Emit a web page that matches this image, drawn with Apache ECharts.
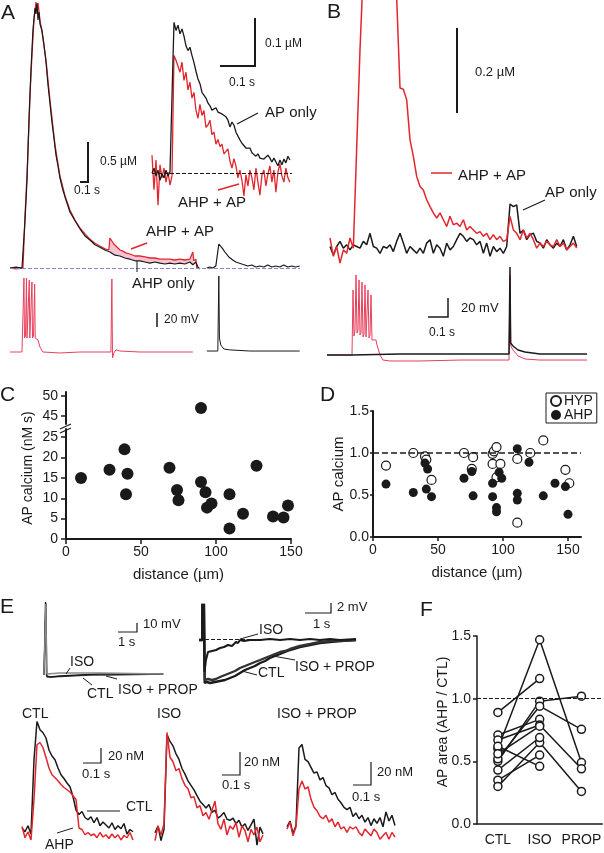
<!DOCTYPE html>
<html>
<head>
<meta charset="utf-8">
<script src="https://cdn.jsdelivr.net/npm/echarts@6.0.0/dist/echarts.min.js"></script>
<style>
html, body { margin: 0; padding: 0; background: #fff; }
#chart { width: 604px; height: 853px; }
</style>
</head>
<body>
<div id="chart"></div>
<script>
"use strict";

var RED = '#e3262d';
var VRED = '#e8405c';
var INK = '#1a1a1a';
var FONT = '"Liberation Sans", Arial, sans-serif';

/*---- A : calcium, [ms, nM] ----*/
var aAhpOnlyCa = [[0,0],[67,12],[133,0],[144,0],[167,600],[189,1100],[211,1850],[233,2475],[255,2975],[278,3250],[289,3175],[300,3310],[311,3100],[322,3200],[333,3050],[355,2975],[377,2790],[400,2575],[422,2290],[444,2060],[466,1825],[488,1625],[511,1410],[533,1275],[555,1125],[588,975],[622,850],[666,700],[722,590],[777,490],[833,400],[888,350],[944,290],[999,260],[1055,225],[1110,200],[1166,160],[1221,150],[1277,125],[1332,110],[1388,90],[1443,90],[1499,75],[1554,60],[1610,75],[1665,60],[1721,50],[1776,60],[1832,50],[1887,60],[1943,50],[1998,75],[2031,40],[2065,75],[2087,12],[2109,-12]];
var aAhpApCa = [[0,0],[67,-10],[144,0],[167,660],[189,1160],[200,1475],[222,2160],[244,2660],[266,3100],[289,3325],[300,3250],[311,3310],[333,3100],[366,2875],[400,2600],[444,2100],[500,1540],[555,1150],[611,900],[666,725],[722,600],[777,500],[833,425],[888,360],[944,310],[999,275],[1055,240],[1099,225],[1110,375],[1132,350],[1154,300],[1177,275],[1199,250],[1221,225],[1254,210],[1288,190],[1332,175],[1388,150],[1443,150],[1499,140],[1554,125],[1610,125],[1665,110],[1721,110],[1776,110],[1832,100],[1887,110],[1943,100],[1998,110],[2031,200],[2042,90],[2065,110],[2076,0]];
var aApOnlyCa = [[2187,0],[2220,12],[2253,0],[2287,25],[2309,0],[2320,300],[2342,275],[2364,238],[2387,200],[2409,175],[2431,138],[2453,125],[2475,100],[2509,75],[2542,62],[2575,50],[2609,38],[2642,25],[2686,38],[2731,12],[2775,25],[2819,12],[2864,38],[2908,12],[2953,25],[2997,12],[3041,38],[3086,12],[3130,25],[3175,12],[3219,25]];
// inset, nM every 5.7 ms
var aInsetApOnly = [0,10,-6,6,-15,-2,-10,6,-6,2,6,314,297,308,290,300,285,265,255,262,245,230,212,196,186,168,166,156,146,140,131,133,136,127,131,123,119,117,110,96,106,100,85,85,69,62,60,52,48,52,42,46,35,40,31,35,29,27,37,31,23,31,27,15,27,17,29,21,35,27];
var aInsetAhpAp = [37,-35,27,-67,17,-10,10,-19,2,-25,-6,245,235,239,210,231,193,210,173,189,156,168,131,114,143,120,130,95,100,110,80,85,60,70,55,60,40,45,50,25,10,30,15,-10,6,-15,-48,-4,-27,6,-10,-35,10,-19,-46,-4,6,-27,-2,15,-19,6,-40,2,19,-6,-19,10,-10,-19];
// membrane potential, [ms, mV]
var aVmAhpAp = [[0,-65],[133,-65],[144,-63.6],[155,40.7],[161,-45],[172,-42],[183,40.7],[189,-45],[200,-43.6],[214,37.9],[220,-45],[233,-43.6],[244,35],[250,-45],[261,-42],[274,32],[280,-45],[294,-43.6],[311,-47.9],[333,-57.9],[366,-65],[555,-66.4],[777,-65],[999,-65],[1121,-65],[1132,39.3],[1139,-73.6],[1154,-66.4],[1177,-62],[1221,-63.6],[1443,-65],[1665,-65],[2031,-65]];
var aVmApOnly = [[2187,-63.6],[2309,-63.6],[2320,43.6],[2327,-45],[2342,-55],[2376,-60.7],[2442,-62],[2664,-63.6],[3219,-63.6]];

/*---- B ----*/
// calcium, nM every 16.7 ms
var bApOnlyCa = [-4,-24,-4,8,-8,0,-12,0,-4,-8,8,0,27,-4,-8,-20,-4,-8,0,-16,8,27,4,-20,-4,-12,-20,-8,-20,4,12,-20,0,-8,-27,4,-12,-4,12,27,20,8,16,12,0,8,-20,4,-27,-4,-16,-8,-20,-4,96,90,94,27,35,12,24,27,8,4,-8,12,0,-8,4,-4,12,-12,0,20,-4];
var bAhpApCa = [16,-27,-4,-43,-12,-20,16,-8,227,459,650,850,950,980,960,900,830,760,700,640,580,369,366,341,247,208,161,137,129,106,90,75,63,75,59,43,67,47,51,43,59,35,43,35,27,31,20,27,12,24,12,20,8,12,67,35,27,12,35,16,27,12,-8,4,-4,8,0,-4,12,-4,4,-12,-4,4,-8];
var bVmApOnly = [[-15,-65],[110,-65],[120,-64],[350,-64],[600,-64],[895,-64],[900,27.6],[903,-52.4],[915,-55.5],[940,-59.7],[975,-61.8],[1050,-64],[1285,-64]];
var bVmAhpAp = [[-15,-65],[110,-65],[115,3.4],[120,-45],[125,-38.7],[130,19.2],[135,-41.8],[140,-38.7],[145,14],[150,-44],[155,-41.8],[160,11.8],[165,-46],[170,-42.9],[175,8.7],[180,-46],[185,-44],[190,3.4],[195,-47.1],[200,-44],[205,-1.8],[210,-49.2],[220,-47.1],[230,-49.2],[235,-54.5],[250,-65],[265,-70.3],[300,-71.3],[450,-71.3],[650,-70.3],[895,-70.3],[900,19.2],[904,-55.5],[915,-59.7],[940,-66],[975,-69.2],[1050,-70.3],[1285,-70.3]];

/*---- C ----*/
var cDistance = [10,29,39,41,40,69,74,75,90,93,94,97,109,109,118,127,138,145,148,90];
var cCalcium = [15,17,22,16,11,17.5,12,9.5,14,11.5,7.7,8.7,11,2.6,6.2,18,5.5,5.3,8.2,47];
var cTicksLow = [0,5,10,15,20,25];
var cTicksHigh = [45,50];

/*---- D ----*/
var dHypDistance = [10,31,40,41,45,70,77,76,92,93,95,92,98,95,111,111,121,131,148,151];
var dHypRatio = [0.85,1.0,0.96,0.92,0.68,1.0,0.95,0.81,0.99,1.02,1.07,0.87,0.87,0.71,0.93,0.17,1.0,1.15,0.8,0.64];
var dAhpDistance = [10,31,40,42,41,45,70,76,77,92,92,95,95,97,99,111,111,111,120,131,140,148,150];
var dAhpRatio = [0.63,0.53,0.88,0.81,0.57,0.48,0.7,0.78,0.49,0.64,0.48,0.35,0.3,0.77,0.7,1.05,0.52,0.44,0.89,0.49,0.64,0.6,0.27];
var dTicks = [0,50,100,150];

/*---- E ----*/
// whole-cell potential, [s, mV]
var eVmCtl = [[0,-65],[0.053,-65],[0.079,16.1],[0.132,-66.1],[0.158,-68.3],[0.316,-67.2],[0.842,-66.1],[1.89,-65],[2.95,-63.9],[4,-63.9],[6.26,-63.9]];
var eVmIso = [[0,-65],[0.068,-65],[0.095,13.9],[0.147,-63.9],[0.21,-62.8],[0.842,-62.8],[1.89,-62.8],[2.95,-62.8],[6.26,-63.9]];
var eVmIsoProp = [[0,-65],[0.074,-65],[0.1,15],[0.153,-67.2],[0.316,-67.2],[1.37,-66.1],[2.42,-65],[3.47,-65],[6.26,-63.9]];
var eAhpIso = [[0,-65.2],[0.115,-65.2],[0.135,-37.2],[0.192,-37.2],[0.212,-71.6],[0.269,-69.2],[0.346,-67.6],[0.5,-67.4],[0.654,-67.2],[0.808,-66.8],[0.962,-66.6],[1.115,-66.2],[1.27,-66.4],[1.42,-65.6],[1.5,-65.8],[1.577,-65.2],[1.73,-65.4],[1.96,-65.2],[2.35,-65.2],[2.73,-65],[3.12,-65.2],[3.5,-65],[3.88,-65.2],[4.27,-65],[4.65,-65.2],[5.04,-65],[5.42,-65.2],[6.04,-65]];
var eAhpCtl = [[0,-65.2],[0.127,-65.2],[0.146,-37.2],[0.2,-37.2],[0.219,-73.8],[0.308,-73.6],[0.423,-73.8],[0.615,-73.6],[0.808,-73.4],[1,-73.2],[1.192,-72.8],[1.385,-72.4],[1.577,-71.8],[1.77,-71.2],[1.96,-70.8],[2.15,-70.4],[2.35,-69.8],[2.54,-69.4],[2.73,-68.8],[2.92,-68.4],[3.12,-68],[3.31,-67.6],[3.5,-67.2],[3.88,-66.6],[4.27,-66.2],[4.65,-65.8],[5.04,-65.6],[5.42,-65.4],[6.04,-65.2]];
var eAhpIsoProp = [[0,-65.2],[0.131,-65.2],[0.15,-37.2],[0.204,-37.2],[0.223,-73.2],[0.346,-73],[0.5,-73.2],[0.654,-73],[0.808,-72.6],[1,-72.2],[1.192,-71.8],[1.385,-71.4],[1.577,-70.8],[1.77,-70.4],[1.96,-70],[2.15,-69.6],[2.35,-69.2],[2.54,-68.8],[2.73,-68.4],[2.92,-68],[3.12,-67.6],[3.31,-67.4],[3.5,-67],[3.88,-66.4],[4.27,-66],[4.65,-65.6],[5.04,-65.4],[5.42,-65.4],[6.04,-65.2]];
// calcium, nM every 16.7 ms
var eCaCtl = [9,4,12,1,100,151,140,136,129,113,105,100,89,80,75,69,64,51,33,27,31,23,20,24,16,23,12,17,13,9,16,7,12,8,15,1,7,4];
var eCaCtlAhp = [11,-4,4,-7,47,120,123,116,103,89,80,76,72,67,63,60,57,52,47,9,7,0,3,-1,1,-4,3,-3,0,-5,1,-4,0,-7,-1,-4,3,-7];
var eCaIso = [-2,4,-9,1,85,79,75,68,63,55,50,44,40,36,31,26,23,20,23,16,18,11,13,16,10,9,11,6,9,3,6,0,5,10,-13,3,-3];
var eCaIsoAhp = [-9,4,-4,6,87,65,61,53,55,46,40,37,29,30,20,22,13,16,10,18,26,6,1,10,-4,4,1,7,-6,4,0,-10,1,-4,3,-10,-4];
var eCaProp = [3,8,-3,4,72,75,62,60,55,50,51,44,46,39,37,31,33,27,24,20,18,20,12,15,10,13,7,11,4,10,6,11,3,16,8,13,4];
var eCaPropAhp = [1,7,-5,3,36,43,36,38,27,20,17,12,10,13,7,10,3,7,1,3,-2,3,1,3,-2,-5,1,-2,-5,1,-2,-8,-5,-2,-8,-2,-6];

/*---- F ----*/
var fCategories = ['CTL', 'ISO', 'PROP'];
var fCells = [
	[0.89, 1.16, null],
	[0.60, 1.47, 0.49],
	[0.50, 0.98, 1.02],
	[0.52, 0.94, 0.755],
	[0.71, 0.835, null],
	[0.67, 0.79, 0.44],
	[0.62, 0.46, null],
	[0.35, 0.55, null],
	[0.30, 0.65, 0.26],
	[0.43, 0.69, null],
	[0.56, 0.78, null]
];


function sampled(values, dt) {
	return values.map(function (v, i) { return [i * dt, v]; });
}
function zip(xs, ys) {
	return xs.map(function (x, i) { return [x, ys[i]]; });
}
function between(data, a, b) {
	return data.filter(function (p) { return p[0] >= a && p[0] <= b; });
}

var grids = [], xAxes = [], yAxes = [], series = [];

function hiddenPanel(l, t, w, h, x0, x1, y0, y1) {
	var gi = grids.length;
	grids.push({ left: l, top: t, width: w, height: h });
	xAxes.push({ type: 'value', gridIndex: gi, min: x0, max: x1, show: false });
	yAxes.push({ type: 'value', gridIndex: gi, min: y0, max: y1, show: false });
	return gi;
}

function trace(gi, data, color, width, z) {
	return {
		type: 'line', xAxisIndex: gi, yAxisIndex: gi, data: data,
		symbol: 'none', silent: true, z: z || 3,
		lineStyle: { color: color, width: width }
	};
}

function baseline(gi, markData, color, z) {
	return {
		type: 'line', xAxisIndex: gi, yAxisIndex: gi, data: [], z: z || 6, silent: true,
		markLine: {
			silent: true, symbol: 'none', label: { show: false },
			lineStyle: { color: color, type: 'dashed', width: 1 },
			data: markData
		}
	};
}

var axisInk = { lineStyle: { color: INK, width: 2 } };

/*---- A ----*/
var gA = hiddenPanel(10, 0, 290, 276, 0, 3222, -100, 3350);
series.push({
	type: 'line', xAxisIndex: gA, yAxisIndex: gA, data: between(aAhpApCa, 1110, 2042),
	symbol: 'none', silent: true, z: 1, lineStyle: { width: 0 },
	areaStyle: { color: '#f6c3d3', opacity: 1 }
});
series.push({
	type: 'line', xAxisIndex: gA, yAxisIndex: gA, data: between(aAhpOnlyCa, 1110, 2065),
	symbol: 'none', silent: true, z: 2, lineStyle: { width: 0 },
	areaStyle: { color: '#ffffff', opacity: 1 }
});
series.push(trace(gA, aAhpApCa, RED, 1.3, 3));
series.push(trace(gA, aAhpOnlyCa, INK, 1.2, 4));
series.push(trace(gA, aApOnlyCa, INK, 1.2, 4));
series.push(baseline(gA, [{ yAxis: 0 }], '#8585d6'));

var gAi = hiddenPanel(152, 14.6, 140, 206.4, 0, 400, -100, 330);
series.push(trace(gAi, sampled(aInsetAhpAp, 5.71), RED, 1.3, 3));
series.push(trace(gAi, sampled(aInsetApOnly, 5.71), INK, 1.3, 4));
series.push(baseline(gAi, [{ yAxis: 0 }], INK));

var gAv = hiddenPanel(10, 271.5, 290, 91, 0, 3222, -80, 50);
series.push(trace(gAv, aVmAhpAp, VRED, 1, 3));
series.push(trace(gAv, aVmApOnly, INK, 1, 3));

/*---- B ----*/
var gB = hiddenPanel(326, 0, 262, 270.3, -20, 1290, -60, 576);
series.push(trace(gB, sampled(bApOnlyCa, 16.67), INK, 1.5, 3));
series.push(trace(gB, sampled(bAhpApCa, 16.67), RED, 1.5, 4));

var gBv = hiddenPanel(326, 260, 262, 109.25, -20, 1290, -80, 35);
series.push(trace(gBv, bVmAhpAp, VRED, 1, 3));
series.push(trace(gBv, bVmApOnly, INK, 1.5, 4));

/*---- C (broken axis: two grids) ----*/
var cLow = [], cHigh = [];
cDistance.forEach(function (d, i) {
	(cCalcium[i] > 30 ? cHigh : cLow).push([d, cCalcium[i]]);
});

var gC = grids.length;
grids.push({ left: 66, top: 429, width: 225, height: 110 });
xAxes.push({
	type: 'value', gridIndex: gC, min: 0, max: 150, interval: 50,
	axisLine: axisInk, axisTick: { length: 5, lineStyle: { color: INK, width: 1.5 } },
	axisLabel: { color: INK, fontSize: 14, fontFamily: FONT, margin: 6 },
	splitLine: { show: false },
	name: 'distance (µm)', nameLocation: 'middle', nameGap: 28,
	nameTextStyle: { color: INK, fontSize: 15, fontFamily: FONT }
});
yAxes.push({
	type: 'value', gridIndex: gC, min: 0, max: 27,
	axisLine: axisInk,
	axisTick: { length: 5, customValues: cTicksLow, lineStyle: { color: INK, width: 1.5 } },
	axisLabel: { color: INK, fontSize: 14, fontFamily: FONT, margin: 8, customValues: cTicksLow },
	splitLine: { show: false }
});
var gC2 = grids.length;
grids.push({ left: 66, top: 392, width: 225, height: 32 });
xAxes.push({ type: 'value', gridIndex: gC2, min: 0, max: 150, show: false });
yAxes.push({
	type: 'value', gridIndex: gC2, min: 43, max: 51,
	axisLine: axisInk,
	axisTick: { length: 5, customValues: cTicksHigh, lineStyle: { color: INK, width: 1.5 } },
	axisLabel: { color: INK, fontSize: 14, fontFamily: FONT, margin: 8, customValues: cTicksHigh },
	splitLine: { show: false }
});
series.push({ type: 'scatter', xAxisIndex: gC, yAxisIndex: gC, data: cLow, symbolSize: 12, itemStyle: { color: INK, opacity: 1 } });
series.push({ type: 'scatter', xAxisIndex: gC2, yAxisIndex: gC2, data: cHigh, symbolSize: 12, itemStyle: { color: INK, opacity: 1 } });

/*---- D ----*/
var gD = grids.length;
grids.push({ left: 373, top: 411, width: 208, height: 126 });
xAxes.push({
	type: 'value', gridIndex: gD, min: 0, max: 160,
	axisLine: axisInk,
	axisTick: { length: 4, customValues: dTicks, lineStyle: { color: INK, width: 1.5 } },
	axisLabel: { color: INK, fontSize: 14, fontFamily: FONT, margin: 6, customValues: dTicks },
	splitLine: { show: false },
	name: 'distance (µm)', nameLocation: 'middle', nameGap: 28,
	nameTextStyle: { color: INK, fontSize: 15, fontFamily: FONT }
});
yAxes.push({
	type: 'value', gridIndex: gD, min: 0, max: 1.5, interval: 0.5,
	axisLine: axisInk,
	axisTick: { length: 3, lineStyle: { color: INK, width: 1.5 } },
	axisLabel: { color: INK, fontSize: 14, fontFamily: FONT, margin: 4, formatter: function (v) { return v.toFixed(1); } },
	splitLine: { show: false }
});
series.push({
	type: 'scatter', name: 'HYP', xAxisIndex: gD, yAxisIndex: gD, data: zip(dHypDistance, dHypRatio),
	symbolSize: 9, itemStyle: { color: '#fff', borderColor: INK, borderWidth: 1.2, opacity: 1 }, z: 3,
	markLine: {
		silent: true, symbol: 'none', label: { show: false },
		lineStyle: { color: INK, type: 'dashed', width: 1.5 },
		data: [{ yAxis: 1 }]
	}
});
series.push({
	type: 'scatter', name: 'AHP', xAxisIndex: gD, yAxisIndex: gD, data: zip(dAhpDistance, dAhpRatio),
	symbolSize: 9, itemStyle: { color: INK, opacity: 1 }, z: 4
});

/*---- E ----*/
var gEl = hiddenPanel(44, 598.5, 120, 85.5, 0, 6.3, -75, 20);
series.push(trace(gEl, eVmIsoProp, '#444', 1.3, 3));
series.push(trace(gEl, eVmCtl, INK, 1.3, 3));
series.push(trace(gEl, eVmIso, '#8a8a8a', 1.3, 4));

var gEr = hiddenPanel(199, 605, 160, 79, 0, 6.154, -74, -58.2);
series.push(trace(gEr, eAhpCtl, INK, 2.4, 3));
series.push(trace(gEr, eAhpIsoProp, '#333', 2.4, 3));
series.push(trace(gEr, eAhpIso, INK, 2, 4));
series.push(baseline(gEr, [[{ coord: [0, -65] }, { coord: [2.35, -65] }]], INK));

var gE1 = hiddenPanel(22, 714.75, 120, 131.25, 0, 667, -15, 160);
series.push(trace(gE1, sampled(eCaCtl, 16.67), INK, 1.5, 3));
series.push(trace(gE1, sampled(eCaCtlAhp, 16.67), RED, 1.5, 4));
var gE2 = hiddenPanel(155, 706.5, 120, 149.5, 0, 667, -20, 110);
series.push(trace(gE2, sampled(eCaIso, 16.67), INK, 1.5, 3));
series.push(trace(gE2, sampled(eCaIsoAhp, 16.67), RED, 1.5, 4));
var gE3 = hiddenPanel(287, 704.5, 120, 149.5, 0, 667, -20, 110);
series.push(trace(gE3, sampled(eCaProp, 16.67), INK, 1.5, 3));
series.push(trace(gE3, sampled(eCaPropAhp, 16.67), RED, 1.5, 4));

/*---- F ----*/
var gF = grids.length;
grids.push({ left: 477, top: 636, width: 127, height: 188 });
xAxes.push({
	type: 'category', gridIndex: gF, data: fCategories,
	axisLine: { lineStyle: { color: INK, width: 1.5 } },
	axisTick: { length: 5, lineStyle: { color: INK, width: 1.5 } },
	axisLabel: { color: INK, fontSize: 14, fontFamily: FONT, margin: 9, interval: 0, hideOverlap: false }
});
yAxes.push({
	type: 'value', gridIndex: gF, min: 0, max: 1.5, interval: 0.5,
	axisLine: { show: true, lineStyle: { color: INK, width: 1.5 } },
	axisTick: { show: true, length: 4, lineStyle: { color: INK, width: 1.5 } },
	axisLabel: { color: INK, fontSize: 14, fontFamily: FONT, margin: 6, formatter: function (v) { return v.toFixed(1); } },
	splitLine: { show: false }
});
fCells.forEach(function (row, i) {
	var s = {
		type: 'line', xAxisIndex: gF, yAxisIndex: gF, data: row, connectNulls: false,
		symbol: 'circle', symbolSize: 8, z: 4,
		itemStyle: { color: '#fff', borderColor: INK, borderWidth: 1.5 },
		lineStyle: { color: INK, width: 1.5 }
	};
	if (i === 0) {
		s.markLine = {
			silent: true, symbol: 'none', label: { show: false },
			lineStyle: { color: INK, type: 'dashed', width: 1 },
			data: [{ yAxis: 1 }]
		};
	}
	series.push(s);
});

/*---- annotations ----*/
function txt(x, y, s, size, extra) {
	var el = {
		type: 'text', x: x, y: y, z: 20, silent: true,
		style: { text: s, fontSize: size, fontFamily: FONT, fill: INK, align: 'left', verticalAlign: 'middle' }
	};
	if (extra) {
		for (var k in extra) { el.style[k] = extra[k]; }
	}
	return el;
}
function letter(x, y, s) {
	return txt(x, y, s, 21, { verticalAlign: 'top' });
}
function vname(x, y, s, size) {
	var el = txt(x, y, s, size, { align: 'center' });
	el.rotation = Math.PI / 2;
	return el;
}
function seg(points, color, width) {
	return { type: 'polyline', z: 20, silent: true, shape: { points: points }, style: { stroke: color, lineWidth: width, fill: null } };
}

var graphic = [
	// A
	letter(1, 3, 'A'),
	seg([[88, 142], [88, 182], [80, 182]], INK, 2),
	txt(100, 162, '0.5 µM', 12),
	txt(74, 191, '0.1 s', 12),
	seg([[255, 18], [255, 66], [220, 66]], INK, 2),
	txt(265, 44, '0.1 µM', 12),
	txt(229, 83, '0.1 s', 12),
	txt(265, 113, 'AP only', 15),
	seg([[237, 124], [258, 113]], INK, 1.2),
	txt(178, 203, 'AHP + AP', 15),
	seg([[218, 190], [239, 184]], RED, 1.5),
	txt(146, 232, 'AHP + AP', 15),
	seg([[131, 249], [147, 243]], RED, 1.5),
	txt(132, 284, 'AHP only', 15),
	seg([[137, 261], [137, 272]], INK, 1),
	seg([[157, 313], [157, 327]], INK, 1.5),
	txt(164, 320, '20 mV', 12),
	// B
	letter(327, 2, 'B'),
	seg([[457, 28], [457, 113]], INK, 2),
	txt(475, 72, '0.2 µM', 13),
	txt(458, 176, 'AHP + AP', 15),
	seg([[431, 173], [452, 173]], RED, 1.5),
	txt(545, 193, 'AP only', 15),
	seg([[523, 210], [545, 200]], INK, 1.2),
	seg([[428, 317], [448, 317], [448, 298]], INK, 1.5),
	txt(461, 308, '20 mV', 13),
	txt(429, 333, '0.1 s', 12),
	// C
	letter(0, 385, 'C'),
	seg([[60, 429], [71, 424]], INK, 1.2),
	seg([[60, 433], [71, 428]], INK, 1.2),
	vname(28, 468, 'AP calcium (nM s)', 14),
	// D
	letter(320, 385, 'D'),
	vname(339, 474, 'AP calcium', 15),
	// E
	letter(0, 597, 'E'),
	seg([[118, 632], [137, 632], [137, 623]], INK, 1.2),
	txt(143, 624, '10 mV', 13),
	txt(118, 642, '1 s', 13),
	txt(70, 662, 'ISO', 14),
	seg([[70, 668], [66, 674]], INK, 1),
	txt(87, 694, 'CTL', 14),
	seg([[83, 678], [92, 685]], INK, 1),
	txt(118, 690, 'ISO + PROP', 14),
	seg([[106, 676], [117, 679]], INK, 1),
	seg([[305, 613], [331, 613], [331, 603]], INK, 1.2),
	txt(337, 607, '2 mV', 13),
	txt(313, 624, '1 s', 13),
	txt(259, 630, 'ISO', 14),
	seg([[240, 639], [258, 634]], INK, 1),
	txt(295, 667, 'ISO + PROP', 14),
	seg([[273, 656], [295, 660]], INK, 1),
	txt(258, 673, 'CTL', 14),
	seg([[242, 671], [257, 675]], INK, 1),
	txt(22, 714, 'CTL', 14),
	txt(157, 714, 'ISO', 14),
	txt(277, 714, 'ISO + PROP', 14),
	seg([[83, 763], [101, 763], [101, 748]], INK, 1.2),
	txt(108, 756, '20 nM', 13),
	txt(82, 774, '0.1 s', 13),
	txt(126, 807, 'CTL', 14),
	seg([[87, 811], [120, 811]], INK, 1),
	txt(45, 845, 'AHP', 14),
	seg([[57, 833], [73, 828]], INK, 1),
	seg([[222, 775], [240, 775], [240, 752]], INK, 1.2),
	txt(244, 762, '20 nM', 13),
	txt(222, 785, '0.1 s', 13),
	seg([[353, 785], [371, 785], [371, 762]], INK, 1.2),
	txt(377, 772, '20 nM', 13),
	txt(352, 797, '0.1 s', 13),
	// F
	letter(420, 600, 'F'),
	vname(443, 722, 'AP area (AHP / CTL)', 14)
];

var chart = echarts.init(document.getElementById('chart'), null, { renderer: 'canvas' });
chart.setOption({
	animation: false,
	backgroundColor: '#fff',
	textStyle: { fontFamily: FONT },
	grid: grids,
	xAxis: xAxes,
	yAxis: yAxes,
	legend: {
		data: ['HYP', 'AHP'], left: 546, top: 393, orient: 'vertical',
		borderColor: INK, borderWidth: 1, padding: [1, 4, 1, 4], itemGap: 0,
		itemWidth: 10, itemHeight: 10, icon: 'circle',
		textStyle: { color: INK, fontSize: 14, fontFamily: FONT, padding: [0, 0, 0, -2] }
	},
	graphic: graphic,
	series: series
});
</script>
</body>
</html>
